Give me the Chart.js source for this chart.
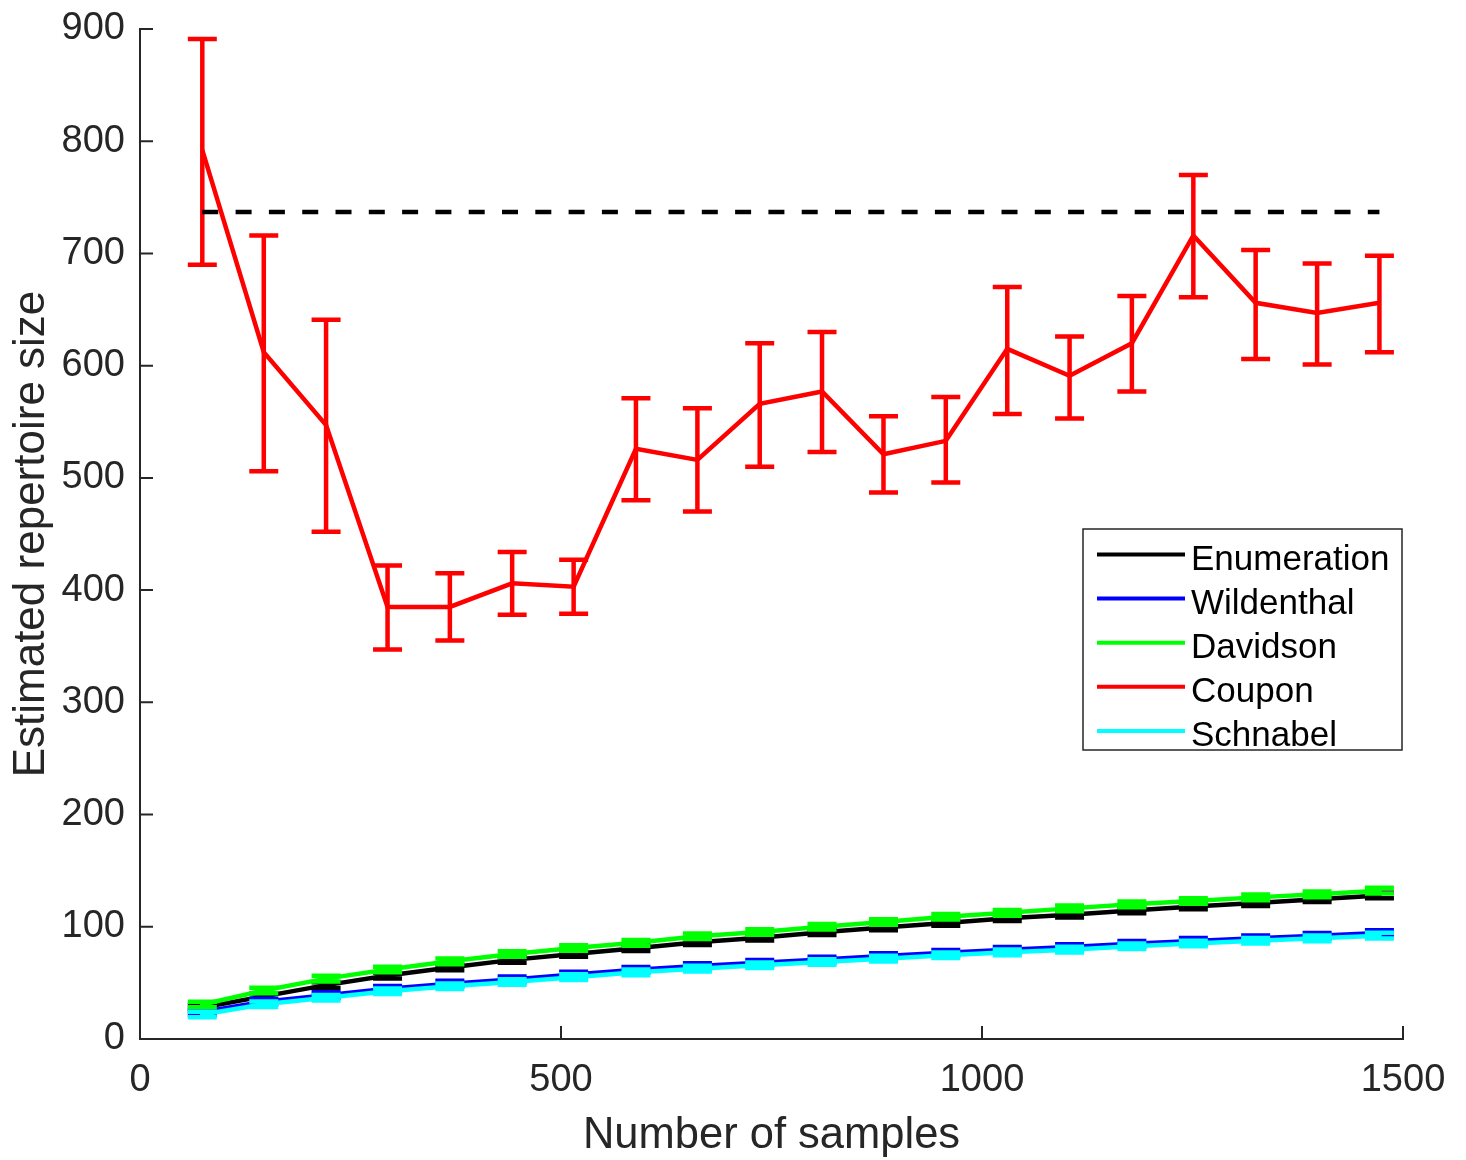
<!DOCTYPE html>
<html>
<head>
<meta charset="utf-8">
<title>Estimated repertoire size</title>
<script src="https://cdn.jsdelivr.net/npm/chart.js@4.4.1/dist/chart.umd.min.js"></script>
<style>
  html, body { margin: 0; padding: 0; background: #ffffff; }
  #wrap { width: 1466px; height: 1160px; }
</style>
</head>
<body>
<div id="wrap"><canvas id="chart" width="1466" height="1160"></canvas></div>
<script>
// ---- data ----
const sampleCounts = [74, 147, 221, 294, 368, 442, 515, 589, 662, 736, 810, 883, 957, 1030, 1104, 1178, 1251, 1325, 1398, 1472];

const enumeration = [28.0, 38.0, 48.0, 56.5, 63.7, 70.5, 75.8, 80.9, 86.2, 90.3, 95.1, 99.3, 103.4, 107.6, 110.7, 114.6, 118.1, 121.1, 124.6, 127.9];
const enumerationErr = [2.5, 2.5, 2.5, 2.5, 2.5, 2.5, 2.5, 2.5, 2.5, 2.5, 2.5, 2.5, 2.5, 2.5, 2.5, 2.5, 2.5, 2.5, 2.5, 2.5];

const wildenthal = [24.1, 33.3, 39.1, 44.8, 49.3, 53.1, 57.4, 61.7, 65.0, 68.0, 70.9, 73.9, 76.9, 79.5, 81.9, 84.9, 87.4, 89.8, 92.0, 94.4];
const wildenthalErr = [2.5, 2.5, 2.5, 2.5, 2.5, 2.5, 2.5, 2.5, 2.5, 2.5, 2.5, 2.5, 2.5, 2.5, 2.5, 2.5, 2.5, 2.5, 2.5, 2.5];

const davidson = [30.7, 43.2, 53.8, 61.9, 69.2, 75.7, 81.1, 85.7, 91.5, 95.3, 100.0, 104.3, 108.9, 112.4, 116.4, 120.0, 123.0, 126.2, 128.9, 132.2];
const davidsonErr = [2.5, 2.5, 2.5, 2.5, 2.5, 2.5, 2.5, 2.5, 2.5, 2.5, 2.5, 2.5, 2.5, 2.5, 2.5, 2.5, 2.5, 2.5, 2.5, 2.5];

const coupon     = [792, 612, 547, 385, 385, 406, 403, 526, 516, 566, 577, 521, 533, 615, 591, 620, 716, 656, 647, 656];
const couponLow  = [690, 506, 452, 347, 355, 378, 379, 480, 470, 510, 523, 487, 496, 557, 553, 577, 661, 606, 601, 612];
const couponHigh = [891, 716, 641, 422, 415, 434, 427, 571, 562, 620, 630, 555, 572, 670, 626, 662, 770, 703, 691, 698];

const schnabel = [21.8, 31.0, 36.8, 42.5, 47.0, 50.8, 55.1, 59.4, 62.7, 65.7, 68.6, 71.6, 74.6, 77.2, 79.6, 82.6, 85.1, 87.5, 89.7, 92.1];
const schnabelErr = [2.5, 2.5, 2.5, 2.5, 2.5, 2.5, 2.5, 2.5, 2.5, 2.5, 2.5, 2.5, 2.5, 2.5, 2.5, 2.5, 2.5, 2.5, 2.5, 2.5];

const trueRepertoire = [737, 737];
const trueRepertoireX = [74, 1472];

const xTickValues = [0, 500, 1000, 1500];
const yTickValues = [0, 100, 200, 300, 400, 500, 600, 700, 800, 900];

// ---- helpers ----
const FONT = "'Liberation Sans', Arial, Helvetica, sans-serif";
const AXIS_COLOR = '#262626';
const LINE_W = 4.5;

function points(xs, ys) { return xs.map((x, i) => ({ x: x, y: ys[i] })); }
function minus(v, e) { return v.map((y, i) => y - e[i]); }
function plus(v, e) { return v.map((y, i) => y + e[i]); }

function series(label, color, values, low, high, order) {
  return {
    label: label,
    data: points(sampleCounts, values),
    borderColor: color,
    backgroundColor: color,
    borderWidth: LINE_W,
    pointRadius: 0,
    tension: 0,
    fill: false,
    order: order,
    inKey: true,
    errLow: low,
    errHigh: high,
    errHalfCap: 14.5,
    errWidth: LINE_W
  };
}

const datasets = [
  series('Enumeration', '#000000', enumeration, minus(enumeration, enumerationErr), plus(enumeration, enumerationErr), 5),
  series('Wildenthal', '#0000ff', wildenthal, minus(wildenthal, wildenthalErr), plus(wildenthal, wildenthalErr), 4),
  series('Davidson', '#00ff00', davidson, minus(davidson, davidsonErr), plus(davidson, davidsonErr), 3),
  series('Coupon', '#ff0000', coupon, couponLow, couponHigh, 2),
  series('Schnabel', '#00ffff', schnabel, minus(schnabel, schnabelErr), plus(schnabel, schnabelErr), 1),
  {
    label: 'true size',
    data: points(trueRepertoireX, trueRepertoire),
    borderColor: '#000000',
    borderWidth: LINE_W,
    borderDash: [16, 17.3],
    borderCapStyle: 'butt',
    pointRadius: 0,
    fill: false,
    order: 0,
    inKey: false
  }
];

// vertical error bars with caps, drawn right after each series so layering follows series order
const errorBars = {
  id: 'errorBars',
  afterDatasetDraw(chart, args) {
    const ds = chart.data.datasets[args.index];
    if (!ds.errLow) return;
    const { ctx, chartArea } = chart;
    const xs = chart.scales.x, ys = chart.scales.y;
    ctx.save();
    ctx.beginPath();
    ctx.rect(chartArea.left, chartArea.top - 3, chartArea.right - chartArea.left, chartArea.bottom - chartArea.top + 3);
    ctx.clip();
    ctx.strokeStyle = ds.borderColor;
    ctx.lineWidth = ds.errWidth;
    ctx.lineCap = 'butt';
    const h = ds.errHalfCap;
    ds.data.forEach((p, i) => {
      const x = xs.getPixelForValue(p.x);
      const yl = ys.getPixelForValue(ds.errLow[i]);
      const yh = ys.getPixelForValue(ds.errHigh[i]);
      ctx.beginPath();
      ctx.moveTo(x, yl); ctx.lineTo(x, yh);
      ctx.moveTo(x - h, yl); ctx.lineTo(x + h, yl);
      ctx.moveTo(x - h, yh); ctx.lineTo(x + h, yh);
      ctx.stroke();
    });
    ctx.restore();
  }
};

// left and bottom axis lines with inward tick marks
const axisFrame = {
  id: 'axisFrame',
  afterDraw(chart) {
    const { ctx, chartArea } = chart;
    const xs = chart.scales.x, ys = chart.scales.y;
    const L = chartArea.left, B = chartArea.bottom;
    const tickLen = 13;
    ctx.save();
    ctx.strokeStyle = AXIS_COLOR;
    ctx.lineWidth = 2;
    ctx.lineCap = 'square';
    ctx.beginPath();
    ctx.moveTo(L, ys.getPixelForValue(yTickValues[yTickValues.length - 1]));
    ctx.lineTo(L, B);
    ctx.lineTo(xs.getPixelForValue(xTickValues[xTickValues.length - 1]), B);
    ctx.stroke();
    ctx.lineCap = 'butt';
    ctx.beginPath();
    yTickValues.forEach(v => {
      const y = ys.getPixelForValue(v);
      ctx.moveTo(L, y); ctx.lineTo(L + tickLen, y);
    });
    xTickValues.forEach(v => {
      const x = xs.getPixelForValue(v);
      ctx.moveTo(x, B); ctx.lineTo(x, B - tickLen);
    });
    ctx.stroke();
    ctx.restore();
  }
};

// boxed key inside the plot
const keyBox = {
  id: 'keyBox',
  afterDraw(chart) {
    const { ctx } = chart;
    const box = { x: 1083, y: 529, w: 319, h: 221 };
    ctx.save();
    ctx.fillStyle = '#ffffff';
    ctx.fillRect(box.x, box.y, box.w, box.h);
    ctx.strokeStyle = AXIS_COLOR;
    ctx.lineWidth = 1.5;
    ctx.strokeRect(box.x, box.y, box.w, box.h);
    const entries = chart.data.datasets.filter(d => d.inKey);
    ctx.font = '35px ' + FONT;
    ctx.textAlign = 'left';
    ctx.textBaseline = 'alphabetic';
    entries.forEach((d, i) => {
      const ly = 554.5 + i * 44.1;
      ctx.strokeStyle = d.borderColor;
      ctx.lineWidth = 4;
      ctx.beginPath();
      ctx.moveTo(1097, ly); ctx.lineTo(1185, ly);
      ctx.stroke();
      ctx.fillStyle = '#000000';
      ctx.fillText(d.label, 1191, ly + 15);
    });
    ctx.restore();
  }
};

new Chart(document.getElementById('chart'), {
  type: 'line',
  data: { datasets: datasets },
  options: {
    responsive: false,
    animation: false,
    devicePixelRatio: 1,
    layout: { padding: { top: 29, right: 63, left: 0, bottom: 0 } },
    plugins: {
      legend: { display: false },
      tooltip: { enabled: false }
    },
    scales: {
      x: {
        type: 'linear',
        min: 0,
        max: 1500,
        afterBuildTicks: s => { s.ticks = xTickValues.map(v => ({ value: v })); },
        afterFit: s => { s.height = 121; s.paddingLeft = 0; s.paddingRight = 0; },
        grid: { display: false, drawTicks: false },
        border: { display: false },
        ticks: {
          color: AXIS_COLOR,
          font: { family: FONT, size: 38 },
          padding: 19,
          maxRotation: 0,
          autoSkip: false,
          callback: v => String(v)
        },
        title: {
          display: true,
          text: 'Number of samples',
          color: AXIS_COLOR,
          font: { family: FONT, size: 43.5, lineHeight: 1 },
          padding: { top: 0, bottom: 2 }
        }
      },
      y: {
        type: 'linear',
        min: 0,
        max: 900,
        afterBuildTicks: s => { s.ticks = yTickValues.map(v => ({ value: v })); },
        afterFit: s => { s.width = 140; s.paddingTop = 0; s.paddingBottom = 0; },
        grid: { display: false, drawTicks: false },
        border: { display: false },
        ticks: {
          color: AXIS_COLOR,
          font: { family: FONT, size: 38 },
          padding: 15,
          autoSkip: false,
          callback: v => String(v)
        },
        title: {
          display: true,
          text: 'Estimated repertoire size',
          color: AXIS_COLOR,
          font: { family: FONT, size: 44, lineHeight: 1 },
          padding: { top: 10, bottom: 0 }
        }
      }
    }
  },
  plugins: [errorBars, axisFrame, keyBox]
});
</script>
</body>
</html>
